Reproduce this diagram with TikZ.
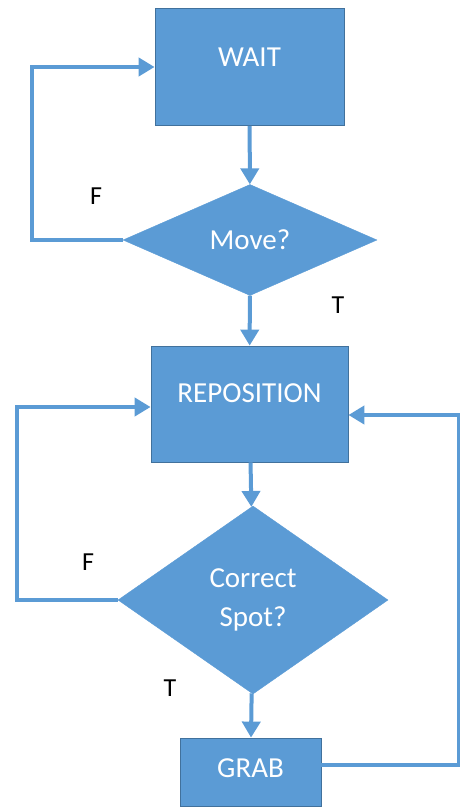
\documentclass[tikz,border=0pt]{standalone}
\usepackage{fontspec}
\setmainfont{Carlito}
\usetikzlibrary{positioning,shapes.geometric,arrows.meta}
\definecolor{flowblue}{HTML}{5B9BD5}
\definecolor{flowedge}{HTML}{41719C}
\tikzset{
  box/.style={rectangle, fill=flowblue, draw=flowedge, line width=0.8pt,
    text=white, inner sep=0pt, text height=19pt,
    font=\fontsize{29}{39}\selectfont},
  ask/.style={diamond, fill=flowblue, draw=flowblue, inner sep=0pt,
    text=white, align=center, font=\fontsize{29}{39}\selectfont},
  flow/.style={draw=flowblue, line width=4pt, -{Triangle[length=16pt,width=18pt]}},
  tf/.style={font=\fontsize{26}{30}\selectfont}
}
\newcommand{\tnode}[3]{\node [tf] (#1) at (#2) {#3}}

\begin{document}
\begin{tikzpicture}[x=1pt,y=-1pt]
\useasboundingbox (0,0) rectangle (460,808);

\node [box, minimum width=189pt, minimum height=117pt, text depth=20pt] (WAIT) at (249.5,67) {WAIT};
\node [ask, minimum width=254pt, minimum height=111pt] (MOVE) at (250,240) {Move?};
\node [box, minimum width=197pt, minimum height=116pt, text depth=22pt] (REPO) at (249.5,404) {REPOSITION};
\node [ask, minimum width=270pt, minimum height=188pt] (SPOT) at (253,600) {Correct\\Spot?};
\node [box, minimum width=141pt, minimum height=68pt, text depth=8pt] (GRAB) at (250.5,772) {GRAB};

\coordinate (L1) at (32,150);
\coordinate (L2) at (17,500);
\coordinate (R1) at (459,600);

\draw[flow] (WAIT) -- (MOVE);
\draw[flow] (MOVE) -- (REPO);
\draw[flow] (REPO) -- (SPOT);
\draw[flow] (SPOT) -- (GRAB);

\draw[flow] (MOVE.west) -| (L1) |- (WAIT.west);
\draw[flow] (SPOT.west) -| (L2) |- ([yshift=-3pt]REPO.west);
\draw[flow] ([yshift=7pt]GRAB.east) -| (R1) |- ([yshift=-11pt]REPO.east);

\tnode{F1}{96,196}{F};
\tnode{T1}{338,305}{T};
\tnode{F2}{88,562}{F};
\tnode{T2}{170,688}{T};

\end{tikzpicture}
\end{document}
